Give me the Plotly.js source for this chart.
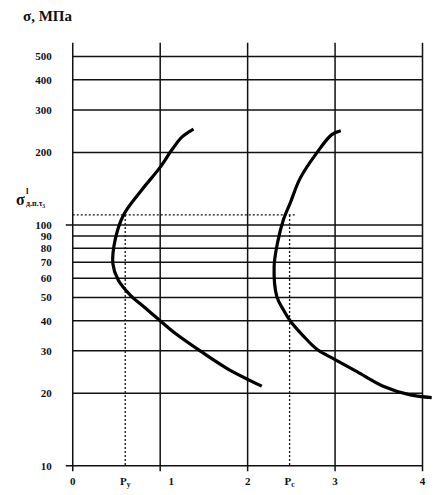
<!DOCTYPE html>
<html>
<head>
<meta charset="utf-8">
<script src="https://cdn.plot.ly/plotly-3.0.1.min.js"></script>
<style>
  html, body { margin: 0; padding: 0; background: #fff; }
  #chart { width: 446px; height: 495px; }
</style>
</head>
<body>
<div id="chart"></div>
<script>
// Stress levels (MPa) labelled on the logarithmic axis
const stressTicks = [10, 20, 30, 40, 50, 60, 70, 80, 90, 100, 200, 300, 400, 500];
// Horizontal reference lines drawn across the field
const gridLevels = [20, 30, 40, 50, 60, 70, 80, 90, 100, 200, 300, 400, 500];
// Pressure axis divisions
const pressureTicks = [0, 1, 2, 3, 4];
const pressureLabels = ['0', '\u00a0\u00a0\u00a0\u00a0\u00a0\u00a0\u00a0\u00a01', '2', '3', '4'];

// Characteristic pressures and the limiting stress
const pY = 0.6;
const pC = 2.48;
const limitStress = 110;

// Curve 1 (left)
const curve1P = [1.381, 1.25, 1.134, 0.992, 0.791, 0.581, 0.486, 0.459, 0.52, 0.66, 0.82, 1.0, 1.171, 1.457, 1.762, 2.162];
const curve1S = [250, 232, 205, 172, 140, 110, 87, 69, 59, 51, 45.5, 40, 35.5, 30, 25.4, 21.4];

// Curve 2 (right)
const curve2P = [3.065, 2.962, 2.791, 2.6, 2.486, 2.409, 2.341, 2.303, 2.334, 2.409, 2.486, 2.63, 2.8, 3.0, 3.25, 3.55, 3.86, 4.105];
const curve2S = [246, 237, 199, 156, 123, 105, 84, 67, 50.4, 44.4, 40, 34.8, 30.3, 27.6, 24.6, 21.4, 19.7, 19.2];

const W = 446, H = 495;
const M = { l: 63.75, r: 6.25, t: 37.25, b: 22.1 };
const plotW = W - M.l - M.r, plotH = H - M.t - M.b;
const px = v => (v - M.l) / plotW;
const py = v => 1 - (v - M.t) / plotH;

const ink = '#111';
const serif = 'Liberation Serif, Times New Roman, serif';

// Build polyline segments separated by gaps
function segs(list) {
  const x = [], y = [];
  list.forEach(s => { x.push(s[0], s[2], null); y.push(s[1], s[3], null); });
  return { x, y };
}

const sMin = 9.5, sMax = 570;
const xLeftStub = -0.08;
const pMax = pressureTicks[pressureTicks.length - 1];

const hLines = segs(gridLevels.map(g => [g === 100 ? xLeftStub : 0, g, pMax, g])
  .concat([[xLeftStub, stressTicks[0], pMax, stressTicks[0]]]));
const vLines = segs(pressureTicks.map(p => [p, sMin, p, sMax]));
const dashed = segs([
  [0, limitStress, 2.54, limitStress],
  [pY, limitStress, pY, stressTicks[0]],
  [pC, limitStress, pC, stressTicks[0]]
]);

const traces = [
  { x: hLines.x, y: hLines.y, mode: 'lines', line: { color: ink, width: 1.5 }, hoverinfo: 'skip', cliponaxis: false },
  { x: vLines.x, y: vLines.y, mode: 'lines', line: { color: ink, width: 1.5 }, hoverinfo: 'skip', cliponaxis: false },
  { x: dashed.x, y: dashed.y, mode: 'lines', line: { color: ink, width: 1.3, dash: '2px,2px' }, hoverinfo: 'skip' },
  { x: curve1P, y: curve1S, mode: 'lines', line: { color: '#000', width: 3.2, shape: 'spline', smoothing: 1 } },
  { x: curve2P, y: curve2S, mode: 'lines', line: { color: '#000', width: 3.2, shape: 'spline', smoothing: 1 } }
];

const tickFont = { family: serif, size: 11, color: ink, weight: 'bold' };

const layout = {
  width: W, height: H,
  margin: M,
  paper_bgcolor: '#fff', plot_bgcolor: '#fff',
  showlegend: false,
  xaxis: {
    range: [-0.1, 4.2],
    showgrid: false, zeroline: false, showline: false,
    tickmode: 'array',
    tickvals: pressureTicks.concat([pY, pC]),
    ticktext: pressureLabels.concat(['Р<sub>у</sub>', 'Р<sub>с</sub>']),
    ticks: '', tickfont: tickFont
  },
  yaxis: {
    type: 'log',
    range: [0.97, 2.78],
    showgrid: false, zeroline: false, showline: false,
    tickmode: 'array',
    tickvals: stressTicks,
    ticktext: stressTicks.map(String),
    ticks: 'outside', ticklen: 9, tickcolor: 'rgba(0,0,0,0)',
    tickfont: tickFont
  },
  annotations: [
    { text: 'σ, МПа', xref: 'paper', yref: 'paper', x: px(21), y: py(16), xanchor: 'left', yanchor: 'middle',
      showarrow: false, font: { family: serif, size: 15, color: ink, weight: 'bold' } },
    { text: 'σ', xref: 'paper', yref: 'paper', x: px(14), y: py(200), xanchor: 'left', yanchor: 'middle',
      showarrow: false, font: { family: serif, size: 16, color: ink, weight: 'bold' } },
    { text: 'l', xref: 'paper', yref: 'paper', x: px(23.5), y: py(191), xanchor: 'left', yanchor: 'middle',
      showarrow: false, font: { family: serif, size: 9, color: ink, weight: 'bold' } },
    { text: 'д.п.τ<sub>3</sub>', xref: 'paper', yref: 'paper', x: px(24), y: py(204), xanchor: 'left', yanchor: 'middle',
      showarrow: false, font: { family: serif, size: 8, color: ink, weight: 'bold' } }
  ]
};

Plotly.newPlot('chart', traces, layout, { staticPlot: true, displayModeBar: false });
</script>
</body>
</html>
